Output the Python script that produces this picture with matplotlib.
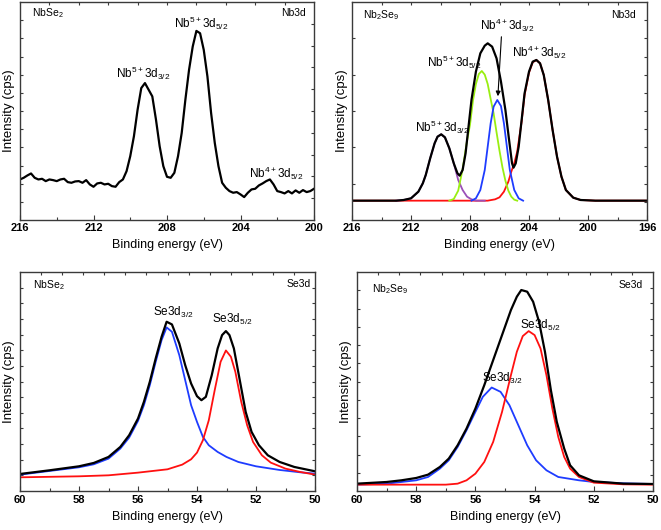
import numpy as np
import matplotlib
matplotlib.use("Agg")
import matplotlib.pyplot as plt

plt.rcParams['font.family'] = ['Liberation Sans', 'DejaVu Sans']
plt.rcParams['mathtext.default'] = 'regular'

# ---------------- Panel 1: NbSe2 Nb3d (raw spectrum) ----------------
p1_energy = np.linspace(216, 200, 81)
p1_counts = [122, 127, 134, 140, 127, 122, 124, 117, 122, 120,
             117, 122, 124, 114, 112, 116, 117, 112, 120, 107,
             100, 110, 112, 107, 109, 102, 100, 114, 122, 147,
             192, 252, 332, 397, 412, 392, 372, 302, 222, 162,
             130, 127, 142, 192, 262, 362, 452, 522, 569, 562,
             512, 432, 322, 232, 162, 112, 97, 87, 82, 84,
             77, 69, 82, 92, 94, 104, 110, 117, 122, 107,
             87, 84, 80, 87, 80, 89, 82, 90, 84, 87, 94]

# ---------------- Panel 2: Nb2Se9 Nb3d (fit) ----------------
p2_env_e = [216, 213, 212.5, 212, 211.5, 211.2, 211, 210.7, 210.4, 210.2, 209.95, 209.7,
            209.4, 209.1, 208.85, 208.7, 208.5, 208.3, 208.1, 207.9, 207.6, 207.3, 207.0,
            206.8, 206.5, 206.2, 205.9, 205.6, 205.35, 205.15, 205.05, 204.9, 204.7, 204.5,
            204.3, 204.0, 203.75, 203.5, 203.25, 203.0, 202.7, 202.4, 202.1, 201.8, 201.5,
            201.0, 200.5, 199.5, 196]
p2_env_i = [0, 0, 2, 7, 27, 52, 77, 127, 172, 192, 199, 190,
            157, 112, 82, 75, 92, 142, 222, 302, 387, 442, 465,
            472, 462, 427, 357, 272, 182, 112, 99, 112, 162, 242,
            322, 387, 417, 422, 412, 377, 302, 212, 132, 72, 32,
            9, 2, 0, 0]
p2_nb5_32_e = [213, 212.5, 212, 211.5, 211.2, 211, 210.7, 210.4, 210.2, 209.95, 209.7,
               209.4, 209.1, 208.8, 208.5, 208.2, 207.9, 207.6, 207.0]
p2_nb5_32_i = [0, 2, 7, 27, 52, 77, 127, 172, 192, 199, 190,
               157, 112, 62, 32, 12, 4, 0, 0]
p2_nb5_52_e = [209.4, 209.1, 208.8, 208.5, 208.2, 208.0, 207.8, 207.6, 207.4, 207.2, 207.0,
               206.8, 206.6, 206.4, 206.2, 206.0, 205.8, 205.6, 205.4, 205.2, 205.0, 204.8]
p2_nb5_52_i = [0, 5, 30, 95, 180, 228, 300, 350, 380, 389, 378,
               350, 305, 262, 205, 150, 100, 60, 30, 12, 3, 0]
p2_nb4_32_e = [207.9, 207.6, 207.3, 207.0, 206.8, 206.6, 206.4, 206.15, 205.9, 205.7,
               205.5, 205.3, 205.0, 204.7, 204.4]
p2_nb4_32_i = [0, 7, 32, 92, 162, 232, 282, 302, 284, 232,
               162, 92, 32, 7, 0]
p2_nb4_52_e = [216, 206.8, 206.3, 206.0, 205.7, 205.4, 205.2, 205.0, 204.8, 204.5, 204.3,
               204.0, 203.75, 203.5, 203.25, 203.0, 202.7, 202.4, 202.1, 201.8, 201.5,
               201.0, 200.5, 199.5, 196]
p2_nb4_52_i = [0, 0, 4, 10, 27, 57, 87, 112, 147, 237, 317,
               384, 415, 422, 412, 377, 302, 212, 132, 72, 32,
               9, 2, 0, 0]

# ---------------- Panel 3: NbSe2 Se3d (fit) ----------------
p3_env_e = [60.0, 59.0, 58.0, 57.5, 57.0, 56.6, 56.3, 56.0, 55.8, 55.6, 55.4, 55.2, 55.03,
            54.85, 54.6, 54.4, 54.2, 54.0, 53.85, 53.7, 53.5, 53.3, 53.15, 53.02, 52.9,
            52.75, 52.55, 52.35, 52.15, 51.9, 51.6, 51.2, 50.7, 50.0]
p3_env_i = [51, 62, 74, 84, 102, 132, 167, 217, 267, 327, 397, 462, 507,
            499, 442, 377, 322, 284, 272, 282, 347, 427, 467, 479, 467,
            427, 332, 237, 177, 137, 107, 87, 72, 59]
p3_d32_e = [60.0, 59.0, 58.0, 57.5, 57.0, 56.6, 56.3, 56.0, 55.8, 55.6, 55.4, 55.2, 55.03,
            54.85, 54.6, 54.4, 54.2, 54.0, 53.8, 53.6, 53.3, 53.0, 52.6, 52.0, 51.2, 50.5, 50.0]
p3_d32_i = [49, 60, 71, 80, 97, 127, 160, 210, 257, 317, 387, 452, 490,
            477, 407, 332, 257, 207, 162, 137, 117, 102, 87, 74, 63, 56, 52]
p3_d52_e = [60.0, 58.0, 57.0, 56.0, 55.0, 54.5, 54.2, 54.0, 53.8, 53.6, 53.4, 53.2, 53.02,
            52.85, 52.7, 52.5, 52.3, 52.1, 51.8, 51.5, 51.0, 50.5, 50.0]
p3_d52_i = [41, 44, 47, 55, 65, 79, 95, 115, 152, 212, 302, 387, 421,
            402, 357, 267, 197, 147, 107, 85, 67, 57, 49]

# ---------------- Panel 4: Nb2Se9 Se3d (fit) ----------------
p4_env_e = [60.0, 59.0, 58.5, 58.0, 57.6, 57.2, 56.9, 56.6, 56.3, 56.0, 55.7, 55.4, 55.1,
            54.8, 54.6, 54.45, 54.25, 54.05, 53.85, 53.65, 53.45, 53.25, 53.0, 52.8, 52.5,
            52.0, 51.0, 50.0]
p4_env_i = [22, 27, 32, 39, 49, 72, 97, 137, 187, 247, 317, 392, 467,
            542, 582, 602, 597, 567, 507, 417, 302, 207, 127, 77, 47,
            29, 22, 21]
p4_d32_e = [60.0, 59.0, 58.0, 57.6, 57.2, 56.9, 56.6, 56.3, 56.0, 55.75, 55.45, 55.15, 54.85,
            54.55, 54.25, 53.95, 53.6, 53.2, 52.5, 52.0, 51.0, 50.0]
p4_d32_i = [19, 22, 32, 42, 67, 92, 132, 182, 237, 282, 310, 297, 257,
            197, 137, 92, 62, 42, 32, 27, 23, 21]
p4_d52_e = [60.0, 57.0, 56.6, 56.3, 56.0, 55.7, 55.4, 55.1, 54.8, 54.6, 54.4, 54.2, 54.0,
            53.8, 53.6, 53.4, 53.2, 53.0, 52.8, 52.5, 52.0, 51.0, 50.0]
p4_d52_i = [19, 19, 22, 32, 52, 87, 147, 237, 347, 417, 464, 479, 467,
            427, 347, 247, 162, 102, 67, 42, 25, 20, 19]

RED = '#ff1010'
BLUE = '#1e3cff'
GREEN = '#99ee11'
PURPLE = '#9b4fb8'
FRAME = '#3a3a3a'

fig = plt.figure(figsize=(6.61, 5.30), dpi=100)
W, H = 661.0, 530.0


def make_ax(l, t, r, b):
    return fig.add_axes([l / W, 1 - b / H, (r - l) / W, (b - t) / H])


def style(ax, xlim, xmaj, xmin, ylim, n_left, n_right, n_top, lab_pad, xlabel_y, ylabel_x):
    ax.set_xlim(*xlim)
    ax.set_ylim(*ylim)
    ax.set_xticks(xmaj)
    ax.set_xticks(xmin, minor=True)
    ax.set_xticklabels([str(int(v)) for v in xmaj], fontsize=8, fontweight='bold')
    ax.set_yticks(np.linspace(ylim[0], ylim[1], n_left + 1)[1:-1])
    ax.set_yticklabels([])
    ax.tick_params(axis='both', which='both', direction='in', color=FRAME,
                   top=False, right=False)
    ax.tick_params(axis='x', which='major', length=3.5, width=0.8, pad=lab_pad)
    ax.tick_params(axis='x', which='minor', length=2, width=0.8)
    ax.tick_params(axis='y', which='major', length=2.5, width=0.8)
    for s in ax.spines.values():
        s.set_color(FRAME)
        s.set_linewidth(1.0)
    ax.set_xlabel('Binding energy (eV)', fontsize=9)
    ax.set_ylabel('Intensity (cps)', fontsize=9.5)
    ax.xaxis.set_label_coords(0.5, xlabel_y)
    ax.yaxis.set_label_coords(ylabel_x, 0.5)
    # right axis with its own tick spacing
    axr = ax.twinx()
    axr.set_ylim(0, 1)
    axr.set_yticks(np.linspace(0, 1, n_right + 1)[1:-1])
    axr.set_yticklabels([])
    axr.tick_params(axis='y', direction='in', length=2.5, width=0.8, color=FRAME)
    for s in axr.spines.values():
        s.set_visible(False)
    # top axis with its own tick spacing
    axt = ax.twiny()
    axt.set_xlim(0, 1)
    axt.set_xticks(np.linspace(0, 1, n_top + 1)[1:-1])
    axt.set_xticklabels([])
    axt.tick_params(axis='x', direction='in', length=2.5, width=0.8, color=FRAME)
    for s in axt.spines.values():
        s.set_visible(False)


# Panel 1
ax1 = make_ax(20, 2, 314, 220)
ax1.plot(p1_energy, p1_counts, color='black', lw=1.6)
style(ax1, (216, 200), [216, 212, 208, 204, 200], [214, 210, 206, 202],
      (0, 656), 12, 10, 10, 2.0, -0.085, -0.018)
ax1.text(0.04, 0.95, 'NbSe$_2$', transform=ax1.transAxes, fontsize=7.5, va='center', ha='left')
ax1.text(0.973, 0.95, 'Nb3d', transform=ax1.transAxes, fontsize=7.5, va='center', ha='right')
ax1.text(0.418, 0.674, 'Nb$^{5+}$3d$_{3/2}$', transform=ax1.transAxes, fontsize=8.5, ha='center', va='center')
ax1.text(0.616, 0.90, 'Nb$^{5+}$3d$_{5/2}$', transform=ax1.transAxes, fontsize=8.5, ha='center', va='center')
ax1.text(0.871, 0.216, 'Nb$^{4+}$3d$_{5/2}$', transform=ax1.transAxes, fontsize=8.5, ha='center', va='center')

# Panel 2
ax2 = make_ax(352, 2, 647, 220)
ax2.plot(p2_nb4_52_e, p2_nb4_52_i, color=RED, lw=1.3)
ax2.plot(p2_nb5_32_e, p2_nb5_32_i, color=PURPLE, lw=1.3)
ax2.plot(p2_nb5_52_e, p2_nb5_52_i, color=GREEN, lw=1.3)
ax2.plot(p2_nb4_32_e, p2_nb4_32_i, color=BLUE, lw=1.3)
ax2.plot(p2_env_e, p2_env_i, color='black', lw=1.6)
style(ax2, (216, 196), [216, 212, 208, 204, 200, 196], [214, 210, 206, 202, 198],
      (-58, 596), 6, 12, 10, 2.0, -0.085, -0.014)
ax2.text(0.037, 0.94, 'Nb$_2$Se$_9$', transform=ax2.transAxes, fontsize=7.5, va='center', ha='left')
ax2.text(0.963, 0.94, 'Nb3d', transform=ax2.transAxes, fontsize=7.5, va='center', ha='right')
ax2.text(0.305, 0.427, 'Nb$^{5+}$3d$_{3/2}$', transform=ax2.transAxes, fontsize=8.5, ha='center', va='center')
ax2.text(0.346, 0.725, 'Nb$^{5+}$3d$_{5/2}$', transform=ax2.transAxes, fontsize=8.5, ha='center', va='center')
ax2.text(0.525, 0.894, 'Nb$^{4+}$3d$_{3/2}$', transform=ax2.transAxes, fontsize=8.5, ha='center', va='center')
ax2.text(0.634, 0.77, 'Nb$^{4+}$3d$_{5/2}$', transform=ax2.transAxes, fontsize=8.5, ha='center', va='center')
ax2.annotate('', xy=(206.12, 305), xytext=(205.86, 500),
             arrowprops=dict(arrowstyle='-|>', color='black', lw=0.8, mutation_scale=7))

# Panel 3
ax3 = make_ax(20, 272, 315, 491)
ax3.plot(p3_d32_e, p3_d32_i, color=BLUE, lw=1.3)
ax3.plot(p3_d52_e, p3_d52_i, color=RED, lw=1.3)
ax3.plot(p3_env_e, p3_env_i, color='black', lw=1.6)
style(ax3, (60, 50), [60, 58, 56, 54, 52, 50], [59, 57, 55, 53, 51],
      (0, 656), 14, 14, 14, 3.0, -0.09, -0.018)
ax3.text(0.044, 0.94, 'NbSe$_2$', transform=ax3.transAxes, fontsize=7.5, va='center', ha='left')
ax3.text(0.985, 0.945, 'Se3d', transform=ax3.transAxes, fontsize=7.5, va='center', ha='right')
ax3.text(0.519, 0.817, 'Se3d$_{3/2}$', transform=ax3.transAxes, fontsize=8.5, ha='center', va='center')
ax3.text(0.719, 0.785, 'Se3d$_{5/2}$', transform=ax3.transAxes, fontsize=8.5, ha='center', va='center')

# Panel 4
ax4 = make_ax(357, 272, 653, 491)
ax4.plot(p4_d32_e, p4_d32_i, color=BLUE, lw=1.3)
ax4.plot(p4_d52_e, p4_d52_i, color=RED, lw=1.3)
ax4.plot(p4_env_e, p4_env_i, color='black', lw=1.6)
style(ax4, (60, 50), [60, 58, 56, 54, 52, 50], [59, 57, 55, 53, 51],
      (0, 656), 12, 14, 14, 3.0, -0.09, -0.017)
ax4.text(0.05, 0.92, 'Nb$_2$Se$_9$', transform=ax4.transAxes, fontsize=7.5, va='center', ha='left')
ax4.text(0.966, 0.94, 'Se3d', transform=ax4.transAxes, fontsize=7.5, va='center', ha='right')
ax4.text(0.618, 0.758, 'Se3d$_{5/2}$', transform=ax4.transAxes, fontsize=8.5, ha='center', va='center')
ax4.text(0.49, 0.516, 'Se3d$_{3/2}$', transform=ax4.transAxes, fontsize=8.5, ha='center', va='center')

fig.savefig('out.png', dpi=100)
